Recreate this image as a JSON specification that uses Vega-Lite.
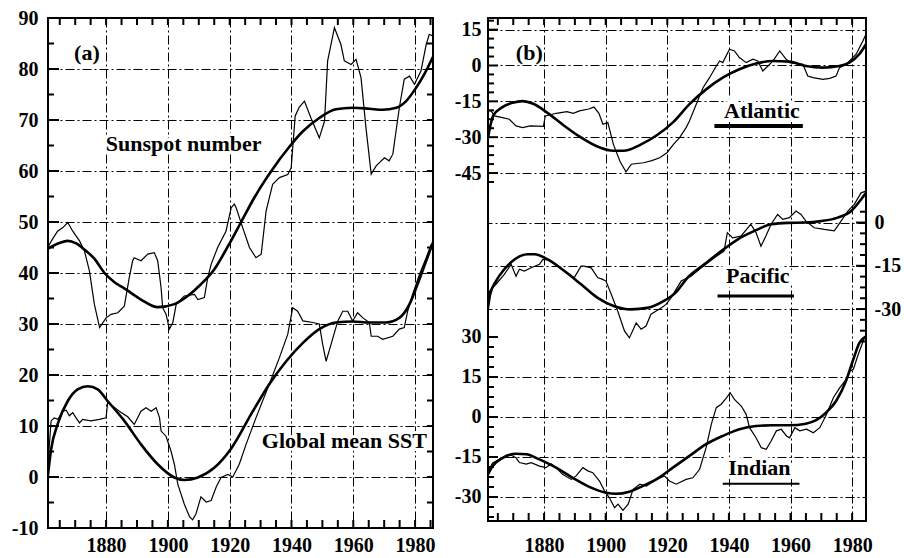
{
  "$schema": "https://vega.github.io/schema/vega-lite/v6.json",
  "background": "white",
  "padding": {"left": 10, "top": 7, "right": 0, "bottom": 0},
  "config": {
    "view": {"stroke": "black", "strokeWidth": 2},
    "axis": {
      "title": null, "domain": false, "ticks": false,
      "labelFont": "Liberation Serif", "labelFontWeight": "bold", "labelFontSize": 20, "labelColor": "black",
      "gridColor": "black", "gridWidth": 1, "gridDash": [9, 3, 2, 3],
      "labelOverlap": false
    },
    "text": {"font": "Liberation Serif", "fontWeight": "bold", "fontSize": 22}
  },
  "datasets": {
    "tickYearsA": [{"year":1865},{"year":1870},{"year":1875},{"year":1880},{"year":1885},{"year":1890},{"year":1895},{"year":1900},{"year":1905},{"year":1910},{"year":1915},{"year":1920},{"year":1925},{"year":1930},{"year":1935},{"year":1940},{"year":1945},{"year":1950},{"year":1955},{"year":1960},{"year":1965},{"year":1970},{"year":1975},{"year":1980},{"year":1985}],
    "tickYearsB": [{"year":1865},{"year":1870},{"year":1875},{"year":1880},{"year":1885},{"year":1890},{"year":1895},{"year":1900},{"year":1905},{"year":1910},{"year":1915},{"year":1920},{"year":1925},{"year":1930},{"year":1935},{"year":1940},{"year":1945},{"year":1950},{"year":1955},{"year":1960},{"year":1965},{"year":1970},{"year":1975},{"year":1980}],
    "tickValues": [
      {"scale":"a","level":"major","value":0},{"scale":"a","level":"major","value":10},{"scale":"a","level":"major","value":20},{"scale":"a","level":"major","value":30},{"scale":"a","level":"major","value":40},{"scale":"a","level":"major","value":50},{"scale":"a","level":"major","value":60},{"scale":"a","level":"major","value":70},{"scale":"a","level":"major","value":80},
      {"scale":"a","level":"minor","value":-5},{"scale":"a","level":"minor","value":5},{"scale":"a","level":"minor","value":15},{"scale":"a","level":"minor","value":25},{"scale":"a","level":"minor","value":35},{"scale":"a","level":"minor","value":45},{"scale":"a","level":"minor","value":55},{"scale":"a","level":"minor","value":65},{"scale":"a","level":"minor","value":75},{"scale":"a","level":"minor","value":85},
      {"scale":"Atlantic","level":"major","value":15},{"scale":"Atlantic","level":"major","value":0},{"scale":"Atlantic","level":"major","value":-15},{"scale":"Atlantic","level":"major","value":-30},{"scale":"Atlantic","level":"major","value":-45},
      {"scale":"Atlantic","level":"minor","value":18.75},{"scale":"Atlantic","level":"minor","value":11.25},{"scale":"Atlantic","level":"minor","value":7.5},{"scale":"Atlantic","level":"minor","value":3.75},{"scale":"Atlantic","level":"minor","value":-3.75},{"scale":"Atlantic","level":"minor","value":-7.5},{"scale":"Atlantic","level":"minor","value":-11.25},{"scale":"Atlantic","level":"minor","value":-18.75},{"scale":"Atlantic","level":"minor","value":-22.5},{"scale":"Atlantic","level":"minor","value":-26.25},{"scale":"Atlantic","level":"minor","value":-33.75},{"scale":"Atlantic","level":"minor","value":-37.5},{"scale":"Atlantic","level":"minor","value":-41.25},{"scale":"Atlantic","level":"minor","value":-48.75},
      {"scale":"Pacific","level":"major","value":0},{"scale":"Pacific","level":"major","value":-15},{"scale":"Pacific","level":"major","value":-30},
      {"scale":"Pacific","level":"minor","value":3.75},{"scale":"Pacific","level":"minor","value":-3.75},{"scale":"Pacific","level":"minor","value":-7.5},{"scale":"Pacific","level":"minor","value":-11.25},{"scale":"Pacific","level":"minor","value":-18.75},{"scale":"Pacific","level":"minor","value":-22.5},{"scale":"Pacific","level":"minor","value":-26.25},{"scale":"Pacific","level":"minor","value":-33.75},{"scale":"Pacific","level":"minor","value":-37.5},{"scale":"Pacific","level":"minor","value":-41.25},
      {"scale":"Indian","level":"major","value":30},{"scale":"Indian","level":"major","value":15},{"scale":"Indian","level":"major","value":0},{"scale":"Indian","level":"major","value":-15},{"scale":"Indian","level":"major","value":-30},
      {"scale":"Indian","level":"minor","value":26.25},{"scale":"Indian","level":"minor","value":22.5},{"scale":"Indian","level":"minor","value":18.75},{"scale":"Indian","level":"minor","value":11.25},{"scale":"Indian","level":"minor","value":7.5},{"scale":"Indian","level":"minor","value":3.75},{"scale":"Indian","level":"minor","value":-3.75},{"scale":"Indian","level":"minor","value":-7.5},{"scale":"Indian","level":"minor","value":-11.25},{"scale":"Indian","level":"minor","value":-18.75},{"scale":"Indian","level":"minor","value":-22.5},{"scale":"Indian","level":"minor","value":-26.25},{"scale":"Indian","level":"minor","value":-33.75},{"scale":"Indian","level":"minor","value":-37.5}
    ],
    "a": [
      {"series":"Sunspot","kind":"raw","year":1861.1,"value":45},
      {"series":"Sunspot","kind":"raw","year":1862.5,"value":46.5},
      {"series":"Sunspot","kind":"raw","year":1864.3,"value":48.2},
      {"series":"Sunspot","kind":"raw","year":1866,"value":48.9},
      {"series":"Sunspot","kind":"raw","year":1867.6,"value":49.9},
      {"series":"Sunspot","kind":"raw","year":1869.2,"value":48.2},
      {"series":"Sunspot","kind":"raw","year":1871.4,"value":46.3},
      {"series":"Sunspot","kind":"raw","year":1873,"value":44.3},
      {"series":"Sunspot","kind":"raw","year":1874.6,"value":40.4},
      {"series":"Sunspot","kind":"raw","year":1876.2,"value":33.9},
      {"series":"Sunspot","kind":"raw","year":1877.9,"value":29.3},
      {"series":"Sunspot","kind":"raw","year":1880,"value":31.2},
      {"series":"Sunspot","kind":"raw","year":1881.6,"value":31.9},
      {"series":"Sunspot","kind":"raw","year":1883.8,"value":32.2},
      {"series":"Sunspot","kind":"raw","year":1885.9,"value":33.5},
      {"series":"Sunspot","kind":"raw","year":1887.5,"value":39.1},
      {"series":"Sunspot","kind":"raw","year":1888.6,"value":42.4},
      {"series":"Sunspot","kind":"raw","year":1889.1,"value":43},
      {"series":"Sunspot","kind":"raw","year":1891.3,"value":42.4},
      {"series":"Sunspot","kind":"raw","year":1893.5,"value":43.7},
      {"series":"Sunspot","kind":"raw","year":1895.6,"value":44},
      {"series":"Sunspot","kind":"raw","year":1896.7,"value":42.4},
      {"series":"Sunspot","kind":"raw","year":1897.8,"value":37.1},
      {"series":"Sunspot","kind":"raw","year":1898.3,"value":33.2},
      {"series":"Sunspot","kind":"raw","year":1899.4,"value":31.9},
      {"series":"Sunspot","kind":"raw","year":1900.5,"value":29},
      {"series":"Sunspot","kind":"raw","year":1901.6,"value":30.3},
      {"series":"Sunspot","kind":"raw","year":1902.7,"value":33.9},
      {"series":"Sunspot","kind":"raw","year":1905.3,"value":35.5},
      {"series":"Sunspot","kind":"raw","year":1908.6,"value":35.8},
      {"series":"Sunspot","kind":"raw","year":1909.7,"value":34.8},
      {"series":"Sunspot","kind":"raw","year":1911.8,"value":35.2},
      {"series":"Sunspot","kind":"raw","year":1912.9,"value":39.1},
      {"series":"Sunspot","kind":"raw","year":1914,"value":41.7},
      {"series":"Sunspot","kind":"raw","year":1916.1,"value":45},
      {"series":"Sunspot","kind":"raw","year":1918.8,"value":48.2},
      {"series":"Sunspot","kind":"raw","year":1920.5,"value":52.8},
      {"series":"Sunspot","kind":"raw","year":1921.5,"value":53.5},
      {"series":"Sunspot","kind":"raw","year":1922.1,"value":52.8},
      {"series":"Sunspot","kind":"raw","year":1924.2,"value":48.9},
      {"series":"Sunspot","kind":"raw","year":1926.4,"value":45},
      {"series":"Sunspot","kind":"raw","year":1928.5,"value":43},
      {"series":"Sunspot","kind":"raw","year":1930.2,"value":43.7},
      {"series":"Sunspot","kind":"raw","year":1931.8,"value":52.2},
      {"series":"Sunspot","kind":"raw","year":1933.9,"value":57.4},
      {"series":"Sunspot","kind":"raw","year":1936.1,"value":58.7},
      {"series":"Sunspot","kind":"raw","year":1938.8,"value":59.3},
      {"series":"Sunspot","kind":"raw","year":1939.9,"value":60.6},
      {"series":"Sunspot","kind":"raw","year":1941.2,"value":70.8},
      {"series":"Sunspot","kind":"raw","year":1942.5,"value":72.5},
      {"series":"Sunspot","kind":"raw","year":1944.2,"value":73.7},
      {"series":"Sunspot","kind":"raw","year":1946.3,"value":70.4},
      {"series":"Sunspot","kind":"raw","year":1949,"value":66.5},
      {"series":"Sunspot","kind":"raw","year":1950.7,"value":69.8},
      {"series":"Sunspot","kind":"raw","year":1951.7,"value":81.6},
      {"series":"Sunspot","kind":"raw","year":1953.9,"value":88.1},
      {"series":"Sunspot","kind":"raw","year":1956,"value":84.8},
      {"series":"Sunspot","kind":"raw","year":1957.1,"value":81.6},
      {"series":"Sunspot","kind":"raw","year":1959.3,"value":80.9},
      {"series":"Sunspot","kind":"raw","year":1960.9,"value":81.9},
      {"series":"Sunspot","kind":"raw","year":1962.5,"value":78.3},
      {"series":"Sunspot","kind":"raw","year":1964.1,"value":68.5},
      {"series":"Sunspot","kind":"raw","year":1965.8,"value":59.4},
      {"series":"Sunspot","kind":"raw","year":1967.4,"value":61},
      {"series":"Sunspot","kind":"raw","year":1970.1,"value":62.6},
      {"series":"Sunspot","kind":"raw","year":1971.6,"value":62},
      {"series":"Sunspot","kind":"raw","year":1972.8,"value":63.3},
      {"series":"Sunspot","kind":"raw","year":1974.9,"value":72.4},
      {"series":"Sunspot","kind":"raw","year":1976.5,"value":78},
      {"series":"Sunspot","kind":"raw","year":1978.2,"value":78.6},
      {"series":"Sunspot","kind":"raw","year":1979.8,"value":77},
      {"series":"Sunspot","kind":"raw","year":1981.9,"value":79.6},
      {"series":"Sunspot","kind":"raw","year":1983.6,"value":84.8},
      {"series":"Sunspot","kind":"raw","year":1984.6,"value":86.8},
      {"series":"Sunspot","kind":"raw","year":1985.7,"value":86.5},
      {"series":"Sunspot","kind":"smooth","year":1861.2,"value":44.8},
      {"series":"Sunspot","kind":"smooth","year":1864.9,"value":45.9},
      {"series":"Sunspot","kind":"smooth","year":1867.6,"value":46.3},
      {"series":"Sunspot","kind":"smooth","year":1870.3,"value":45.8},
      {"series":"Sunspot","kind":"smooth","year":1873,"value":44.6},
      {"series":"Sunspot","kind":"smooth","year":1876.2,"value":42.8},
      {"series":"Sunspot","kind":"smooth","year":1879.5,"value":40},
      {"series":"Sunspot","kind":"smooth","year":1882.5,"value":38.3},
      {"series":"Sunspot","kind":"smooth","year":1885.9,"value":37},
      {"series":"Sunspot","kind":"smooth","year":1891.3,"value":34.8},
      {"series":"Sunspot","kind":"smooth","year":1896.7,"value":33.3},
      {"series":"Sunspot","kind":"smooth","year":1902.1,"value":33.9},
      {"series":"Sunspot","kind":"smooth","year":1906.4,"value":35.5},
      {"series":"Sunspot","kind":"smooth","year":1910.7,"value":37.8},
      {"series":"Sunspot","kind":"smooth","year":1915,"value":40.7},
      {"series":"Sunspot","kind":"smooth","year":1919.5,"value":45.3},
      {"series":"Sunspot","kind":"smooth","year":1923.7,"value":50},
      {"series":"Sunspot","kind":"smooth","year":1928,"value":54.8},
      {"series":"Sunspot","kind":"smooth","year":1932.8,"value":59.4},
      {"series":"Sunspot","kind":"smooth","year":1939.9,"value":65.2},
      {"series":"Sunspot","kind":"smooth","year":1943.7,"value":67.8},
      {"series":"Sunspot","kind":"smooth","year":1949,"value":70.4},
      {"series":"Sunspot","kind":"smooth","year":1954.4,"value":72.1},
      {"series":"Sunspot","kind":"smooth","year":1959.8,"value":72.4},
      {"series":"Sunspot","kind":"smooth","year":1965.2,"value":72.2},
      {"series":"Sunspot","kind":"smooth","year":1969.5,"value":72},
      {"series":"Sunspot","kind":"smooth","year":1973.9,"value":72.4},
      {"series":"Sunspot","kind":"smooth","year":1977.1,"value":73.7},
      {"series":"Sunspot","kind":"smooth","year":1980.3,"value":76.3},
      {"series":"Sunspot","kind":"smooth","year":1983,"value":79},
      {"series":"Sunspot","kind":"smooth","year":1985.8,"value":82.4},
      {"series":"SST","kind":"raw","year":1861.1,"value":-0.1},
      {"series":"SST","kind":"raw","year":1861.5,"value":5.1},
      {"series":"SST","kind":"raw","year":1862.2,"value":11},
      {"series":"SST","kind":"raw","year":1863.2,"value":11.6},
      {"series":"SST","kind":"raw","year":1864.4,"value":11.3},
      {"series":"SST","kind":"raw","year":1866,"value":12.9},
      {"series":"SST","kind":"raw","year":1867.1,"value":13.1},
      {"series":"SST","kind":"raw","year":1868.1,"value":12},
      {"series":"SST","kind":"raw","year":1869.2,"value":12.6},
      {"series":"SST","kind":"raw","year":1870.3,"value":11.6},
      {"series":"SST","kind":"raw","year":1871.4,"value":10.6},
      {"series":"SST","kind":"raw","year":1872.4,"value":11.3},
      {"series":"SST","kind":"raw","year":1875.1,"value":11},
      {"series":"SST","kind":"raw","year":1877.8,"value":11.3},
      {"series":"SST","kind":"raw","year":1880,"value":11.6},
      {"series":"SST","kind":"raw","year":1880.5,"value":14.6},
      {"series":"SST","kind":"raw","year":1882.2,"value":13.9},
      {"series":"SST","kind":"raw","year":1884.5,"value":12.8},
      {"series":"SST","kind":"raw","year":1887,"value":11.8},
      {"series":"SST","kind":"raw","year":1889.1,"value":10.3},
      {"series":"SST","kind":"raw","year":1891.3,"value":12.9},
      {"series":"SST","kind":"raw","year":1892.9,"value":13.6},
      {"series":"SST","kind":"raw","year":1894.6,"value":12.9},
      {"series":"SST","kind":"raw","year":1896.2,"value":13.6},
      {"series":"SST","kind":"raw","year":1897.3,"value":11.6},
      {"series":"SST","kind":"raw","year":1897.8,"value":9},
      {"series":"SST","kind":"raw","year":1899.4,"value":8},
      {"series":"SST","kind":"raw","year":1901,"value":5.1},
      {"series":"SST","kind":"raw","year":1902.1,"value":2.5},
      {"series":"SST","kind":"raw","year":1903.2,"value":-1.4},
      {"series":"SST","kind":"raw","year":1905.3,"value":-5.3},
      {"series":"SST","kind":"raw","year":1907,"value":-7.8},
      {"series":"SST","kind":"raw","year":1908,"value":-8.4},
      {"series":"SST","kind":"raw","year":1909.1,"value":-7.2},
      {"series":"SST","kind":"raw","year":1910.7,"value":-3.9},
      {"series":"SST","kind":"raw","year":1912.4,"value":-4.9},
      {"series":"SST","kind":"raw","year":1914,"value":-4.6},
      {"series":"SST","kind":"raw","year":1915.6,"value":-2},
      {"series":"SST","kind":"raw","year":1917.2,"value":-0.1},
      {"series":"SST","kind":"raw","year":1919.4,"value":0.5},
      {"series":"SST","kind":"raw","year":1921,"value":0},
      {"series":"SST","kind":"raw","year":1923.1,"value":2.5},
      {"series":"SST","kind":"raw","year":1925.3,"value":6.4},
      {"series":"SST","kind":"raw","year":1928.5,"value":11.6},
      {"series":"SST","kind":"raw","year":1932.8,"value":18.2},
      {"series":"SST","kind":"raw","year":1936.1,"value":23.4},
      {"series":"SST","kind":"raw","year":1938.8,"value":28},
      {"series":"SST","kind":"raw","year":1940.4,"value":33.2},
      {"series":"SST","kind":"raw","year":1942,"value":32.5},
      {"series":"SST","kind":"raw","year":1943.7,"value":30.6},
      {"series":"SST","kind":"raw","year":1946.9,"value":30.3},
      {"series":"SST","kind":"raw","year":1949,"value":30},
      {"series":"SST","kind":"raw","year":1950.1,"value":26},
      {"series":"SST","kind":"raw","year":1951.2,"value":22.7},
      {"series":"SST","kind":"raw","year":1952.8,"value":26},
      {"series":"SST","kind":"raw","year":1955,"value":30.6},
      {"series":"SST","kind":"raw","year":1956.6,"value":32.5},
      {"series":"SST","kind":"raw","year":1958.2,"value":32.5},
      {"series":"SST","kind":"raw","year":1959.8,"value":30.6},
      {"series":"SST","kind":"raw","year":1961.4,"value":32.2},
      {"series":"SST","kind":"raw","year":1963.1,"value":31.2},
      {"series":"SST","kind":"raw","year":1965.2,"value":30.3},
      {"series":"SST","kind":"raw","year":1965.8,"value":27.6},
      {"series":"SST","kind":"raw","year":1967.9,"value":27.6},
      {"series":"SST","kind":"raw","year":1969.5,"value":27},
      {"series":"SST","kind":"raw","year":1972.8,"value":27.6},
      {"series":"SST","kind":"raw","year":1974.9,"value":29},
      {"series":"SST","kind":"raw","year":1976.5,"value":29.3},
      {"series":"SST","kind":"raw","year":1977.6,"value":32.5},
      {"series":"SST","kind":"raw","year":1979.2,"value":35.8},
      {"series":"SST","kind":"raw","year":1981.4,"value":39.7},
      {"series":"SST","kind":"raw","year":1983.6,"value":43},
      {"series":"SST","kind":"raw","year":1985.2,"value":45.6},
      {"series":"SST","kind":"smooth","year":1861.1,"value":-0.1},
      {"series":"SST","kind":"smooth","year":1862.2,"value":5.4},
      {"series":"SST","kind":"smooth","year":1864.4,"value":10.5},
      {"series":"SST","kind":"smooth","year":1867.6,"value":14.9},
      {"series":"SST","kind":"smooth","year":1870.8,"value":17.2},
      {"series":"SST","kind":"smooth","year":1874.1,"value":17.8},
      {"series":"SST","kind":"smooth","year":1877.3,"value":17.2},
      {"series":"SST","kind":"smooth","year":1880.5,"value":14.9},
      {"series":"SST","kind":"smooth","year":1885.9,"value":11},
      {"series":"SST","kind":"smooth","year":1891.3,"value":6.4},
      {"series":"SST","kind":"smooth","year":1896.7,"value":2.5},
      {"series":"SST","kind":"smooth","year":1902.1,"value":-0.1},
      {"series":"SST","kind":"smooth","year":1905.3,"value":-0.6},
      {"series":"SST","kind":"smooth","year":1909.7,"value":-0.1},
      {"series":"SST","kind":"smooth","year":1915,"value":1.8},
      {"series":"SST","kind":"smooth","year":1920.5,"value":5.6},
      {"series":"SST","kind":"smooth","year":1927.5,"value":12.9},
      {"series":"SST","kind":"smooth","year":1932.8,"value":18.2},
      {"series":"SST","kind":"smooth","year":1938.3,"value":22.7},
      {"series":"SST","kind":"smooth","year":1943.7,"value":26.3},
      {"series":"SST","kind":"smooth","year":1949,"value":29},
      {"series":"SST","kind":"smooth","year":1954.4,"value":30.3},
      {"series":"SST","kind":"smooth","year":1959.8,"value":30.5},
      {"series":"SST","kind":"smooth","year":1965.2,"value":30.3},
      {"series":"SST","kind":"smooth","year":1970.6,"value":30.3},
      {"series":"SST","kind":"smooth","year":1974.9,"value":31.2},
      {"series":"SST","kind":"smooth","year":1978.2,"value":33.9},
      {"series":"SST","kind":"smooth","year":1980.8,"value":37.8},
      {"series":"SST","kind":"smooth","year":1983.6,"value":42.4},
      {"series":"SST","kind":"smooth","year":1985.8,"value":46}
    ],
    "b": [
      {"series":"Atlantic","kind":"raw","year":1861.8,"value":-19},
      {"series":"Atlantic","kind":"raw","year":1862.8,"value":-19},
      {"series":"Atlantic","kind":"raw","year":1863.9,"value":-21.1},
      {"series":"Atlantic","kind":"raw","year":1866.5,"value":-21.8},
      {"series":"Atlantic","kind":"raw","year":1868.7,"value":-22.5},
      {"series":"Atlantic","kind":"raw","year":1870.9,"value":-25.3},
      {"series":"Atlantic","kind":"raw","year":1873,"value":-26},
      {"series":"Atlantic","kind":"raw","year":1875.5,"value":-25.3},
      {"series":"Atlantic","kind":"raw","year":1879.8,"value":-25.5},
      {"series":"Atlantic","kind":"raw","year":1880.4,"value":-21.1},
      {"series":"Atlantic","kind":"raw","year":1884,"value":-20},
      {"series":"Atlantic","kind":"raw","year":1887.4,"value":-19.3},
      {"series":"Atlantic","kind":"raw","year":1889.5,"value":-20},
      {"series":"Atlantic","kind":"raw","year":1891.5,"value":-19},
      {"series":"Atlantic","kind":"raw","year":1894.5,"value":-18.2},
      {"series":"Atlantic","kind":"raw","year":1896.2,"value":-17.4},
      {"series":"Atlantic","kind":"raw","year":1897.8,"value":-20},
      {"series":"Atlantic","kind":"raw","year":1899.1,"value":-24.6},
      {"series":"Atlantic","kind":"raw","year":1900.7,"value":-23.9},
      {"series":"Atlantic","kind":"raw","year":1902.5,"value":-33},
      {"series":"Atlantic","kind":"raw","year":1904.7,"value":-40.3},
      {"series":"Atlantic","kind":"raw","year":1906.6,"value":-44.5},
      {"series":"Atlantic","kind":"raw","year":1908.3,"value":-41.3},
      {"series":"Atlantic","kind":"raw","year":1910.2,"value":-41},
      {"series":"Atlantic","kind":"raw","year":1912.3,"value":-40.7},
      {"series":"Atlantic","kind":"raw","year":1915,"value":-39.8},
      {"series":"Atlantic","kind":"raw","year":1917.5,"value":-38.6},
      {"series":"Atlantic","kind":"raw","year":1919.9,"value":-36.5},
      {"series":"Atlantic","kind":"raw","year":1922,"value":-33},
      {"series":"Atlantic","kind":"raw","year":1924,"value":-30.2},
      {"series":"Atlantic","kind":"raw","year":1926.1,"value":-26},
      {"series":"Atlantic","kind":"raw","year":1927.2,"value":-23.2},
      {"series":"Atlantic","kind":"raw","year":1929.4,"value":-16.2},
      {"series":"Atlantic","kind":"raw","year":1931.6,"value":-9.3},
      {"series":"Atlantic","kind":"raw","year":1933.7,"value":-5.1},
      {"series":"Atlantic","kind":"raw","year":1935.9,"value":-0.2},
      {"series":"Atlantic","kind":"raw","year":1937,"value":1.9},
      {"series":"Atlantic","kind":"raw","year":1938,"value":1.2},
      {"series":"Atlantic","kind":"raw","year":1940.2,"value":6.8},
      {"series":"Atlantic","kind":"raw","year":1941.8,"value":6.1},
      {"series":"Atlantic","kind":"raw","year":1943.4,"value":3.3},
      {"series":"Atlantic","kind":"raw","year":1945.6,"value":1.2},
      {"series":"Atlantic","kind":"raw","year":1947.8,"value":2.6},
      {"series":"Atlantic","kind":"raw","year":1949.4,"value":1.9},
      {"series":"Atlantic","kind":"raw","year":1951,"value":-2.3},
      {"series":"Atlantic","kind":"raw","year":1952.7,"value":-0.2},
      {"series":"Atlantic","kind":"raw","year":1954.3,"value":1.9},
      {"series":"Atlantic","kind":"raw","year":1956.5,"value":6.1},
      {"series":"Atlantic","kind":"raw","year":1958.6,"value":2.6},
      {"series":"Atlantic","kind":"raw","year":1959.7,"value":1.2},
      {"series":"Atlantic","kind":"raw","year":1964,"value":0.5},
      {"series":"Atlantic","kind":"raw","year":1965.6,"value":-4.4},
      {"series":"Atlantic","kind":"raw","year":1967.3,"value":-5.1},
      {"series":"Atlantic","kind":"raw","year":1970.5,"value":-5.8},
      {"series":"Atlantic","kind":"raw","year":1972.7,"value":-5.4},
      {"series":"Atlantic","kind":"raw","year":1974.8,"value":-4.4},
      {"series":"Atlantic","kind":"raw","year":1975.9,"value":-0.9},
      {"series":"Atlantic","kind":"raw","year":1978.1,"value":0.5},
      {"series":"Atlantic","kind":"raw","year":1981.3,"value":4.7},
      {"series":"Atlantic","kind":"raw","year":1983.5,"value":10.3},
      {"series":"Atlantic","kind":"raw","year":1984.5,"value":13.1},
      {"series":"Atlantic","kind":"smooth","year":1861.8,"value":-30.2},
      {"series":"Atlantic","kind":"smooth","year":1863.5,"value":-21},
      {"series":"Atlantic","kind":"smooth","year":1866.5,"value":-17.4},
      {"series":"Atlantic","kind":"smooth","year":1869.8,"value":-15.6},
      {"series":"Atlantic","kind":"smooth","year":1873,"value":-14.9},
      {"series":"Atlantic","kind":"smooth","year":1876.5,"value":-16},
      {"series":"Atlantic","kind":"smooth","year":1881,"value":-19.7},
      {"series":"Atlantic","kind":"smooth","year":1886.3,"value":-25},
      {"series":"Atlantic","kind":"smooth","year":1891.7,"value":-29.9},
      {"series":"Atlantic","kind":"smooth","year":1897.1,"value":-33.8},
      {"series":"Atlantic","kind":"smooth","year":1902.5,"value":-35.7},
      {"series":"Atlantic","kind":"smooth","year":1905.8,"value":-35.7},
      {"series":"Atlantic","kind":"smooth","year":1911.2,"value":-33.2},
      {"series":"Atlantic","kind":"smooth","year":1916.6,"value":-29.2},
      {"series":"Atlantic","kind":"smooth","year":1922,"value":-23.6},
      {"series":"Atlantic","kind":"smooth","year":1927.2,"value":-16.2},
      {"series":"Atlantic","kind":"smooth","year":1932.6,"value":-10},
      {"series":"Atlantic","kind":"smooth","year":1938,"value":-5.1},
      {"series":"Atlantic","kind":"smooth","year":1943.4,"value":-1.6},
      {"series":"Atlantic","kind":"smooth","year":1948.8,"value":0.8},
      {"series":"Atlantic","kind":"smooth","year":1954.2,"value":1.9},
      {"series":"Atlantic","kind":"smooth","year":1959.6,"value":1.6},
      {"series":"Atlantic","kind":"smooth","year":1965,"value":-0.2},
      {"series":"Atlantic","kind":"smooth","year":1970.4,"value":-0.9},
      {"series":"Atlantic","kind":"smooth","year":1975.8,"value":-0.2},
      {"series":"Atlantic","kind":"smooth","year":1979.1,"value":1.2},
      {"series":"Atlantic","kind":"smooth","year":1982.3,"value":4.7},
      {"series":"Atlantic","kind":"smooth","year":1984.5,"value":8.9},
      {"series":"Pacific","kind":"raw","year":1861.8,"value":-30.7},
      {"series":"Pacific","kind":"raw","year":1862.3,"value":-23.8},
      {"series":"Pacific","kind":"raw","year":1864.4,"value":-21.4},
      {"series":"Pacific","kind":"raw","year":1867.1,"value":-18},
      {"series":"Pacific","kind":"raw","year":1869.3,"value":-14.5},
      {"series":"Pacific","kind":"raw","year":1870.9,"value":-18.6},
      {"series":"Pacific","kind":"raw","year":1872,"value":-16.2},
      {"series":"Pacific","kind":"raw","year":1873.6,"value":-16.8},
      {"series":"Pacific","kind":"raw","year":1875.8,"value":-15.7},
      {"series":"Pacific","kind":"raw","year":1878.5,"value":-14.5},
      {"series":"Pacific","kind":"raw","year":1879.6,"value":-12.8},
      {"series":"Pacific","kind":"raw","year":1881.2,"value":-12.9},
      {"series":"Pacific","kind":"raw","year":1884,"value":-14.8},
      {"series":"Pacific","kind":"raw","year":1887,"value":-17},
      {"series":"Pacific","kind":"raw","year":1889.8,"value":-19.1},
      {"series":"Pacific","kind":"raw","year":1892,"value":-15.1},
      {"series":"Pacific","kind":"raw","year":1893,"value":-15.1},
      {"series":"Pacific","kind":"raw","year":1895.3,"value":-15.7},
      {"series":"Pacific","kind":"raw","year":1897.4,"value":-19.1},
      {"series":"Pacific","kind":"raw","year":1899,"value":-19.7},
      {"series":"Pacific","kind":"raw","year":1900.1,"value":-20.3},
      {"series":"Pacific","kind":"raw","year":1901.8,"value":-24.9},
      {"series":"Pacific","kind":"raw","year":1903.9,"value":-30.7},
      {"series":"Pacific","kind":"raw","year":1906.1,"value":-37.6},
      {"series":"Pacific","kind":"raw","year":1907.7,"value":-40},
      {"series":"Pacific","kind":"raw","year":1909.9,"value":-34.8},
      {"series":"Pacific","kind":"raw","year":1911.5,"value":-37},
      {"series":"Pacific","kind":"raw","year":1913.1,"value":-35.9},
      {"series":"Pacific","kind":"raw","year":1914.7,"value":-31.8},
      {"series":"Pacific","kind":"raw","year":1916.4,"value":-30.7},
      {"series":"Pacific","kind":"raw","year":1918,"value":-29.6},
      {"series":"Pacific","kind":"raw","year":1919.6,"value":-28.4},
      {"series":"Pacific","kind":"raw","year":1921.2,"value":-26.1},
      {"series":"Pacific","kind":"raw","year":1924.5,"value":-20.3},
      {"series":"Pacific","kind":"raw","year":1927.7,"value":-18.6},
      {"series":"Pacific","kind":"raw","year":1931,"value":-15.7},
      {"series":"Pacific","kind":"raw","year":1935.3,"value":-12.2},
      {"series":"Pacific","kind":"raw","year":1938.4,"value":-9.9},
      {"series":"Pacific","kind":"raw","year":1939.5,"value":-3.5},
      {"series":"Pacific","kind":"raw","year":1941.2,"value":-5.3},
      {"series":"Pacific","kind":"raw","year":1943.9,"value":-4.7},
      {"series":"Pacific","kind":"raw","year":1947.1,"value":-0.6},
      {"series":"Pacific","kind":"raw","year":1948.8,"value":-3.5},
      {"series":"Pacific","kind":"raw","year":1950.4,"value":-8.2},
      {"series":"Pacific","kind":"raw","year":1952,"value":-4.7},
      {"series":"Pacific","kind":"raw","year":1953.7,"value":-0.6},
      {"series":"Pacific","kind":"raw","year":1955.8,"value":2.8},
      {"series":"Pacific","kind":"raw","year":1957.5,"value":1.1},
      {"series":"Pacific","kind":"raw","year":1959.6,"value":1.7},
      {"series":"Pacific","kind":"raw","year":1961.8,"value":4},
      {"series":"Pacific","kind":"raw","year":1963.4,"value":2.8},
      {"series":"Pacific","kind":"raw","year":1965,"value":0.5},
      {"series":"Pacific","kind":"raw","year":1967.7,"value":-1.8},
      {"series":"Pacific","kind":"raw","year":1971,"value":-2.4},
      {"series":"Pacific","kind":"raw","year":1974.2,"value":-2.9},
      {"series":"Pacific","kind":"raw","year":1976.4,"value":0.5},
      {"series":"Pacific","kind":"raw","year":1978.6,"value":4},
      {"series":"Pacific","kind":"raw","year":1980.7,"value":6.3},
      {"series":"Pacific","kind":"raw","year":1982.9,"value":10.3},
      {"series":"Pacific","kind":"raw","year":1984.5,"value":10.9},
      {"series":"Pacific","kind":"smooth","year":1861.8,"value":-29.5},
      {"series":"Pacific","kind":"smooth","year":1862.5,"value":-24.9},
      {"series":"Pacific","kind":"smooth","year":1864.4,"value":-20.3},
      {"series":"Pacific","kind":"smooth","year":1867.1,"value":-16.2},
      {"series":"Pacific","kind":"smooth","year":1870.4,"value":-12.8},
      {"series":"Pacific","kind":"smooth","year":1874.7,"value":-11},
      {"series":"Pacific","kind":"smooth","year":1876.9,"value":-11},
      {"series":"Pacific","kind":"smooth","year":1881.2,"value":-12.8},
      {"series":"Pacific","kind":"smooth","year":1886.6,"value":-16.8},
      {"series":"Pacific","kind":"smooth","year":1892,"value":-21.4},
      {"series":"Pacific","kind":"smooth","year":1897.4,"value":-26.1},
      {"series":"Pacific","kind":"smooth","year":1902.8,"value":-29},
      {"series":"Pacific","kind":"smooth","year":1908.2,"value":-30.1},
      {"series":"Pacific","kind":"smooth","year":1913.5,"value":-29.6},
      {"series":"Pacific","kind":"smooth","year":1918.9,"value":-27.2},
      {"series":"Pacific","kind":"smooth","year":1922.7,"value":-24.3},
      {"series":"Pacific","kind":"smooth","year":1926.6,"value":-19.1},
      {"series":"Pacific","kind":"smooth","year":1932,"value":-14.5},
      {"series":"Pacific","kind":"smooth","year":1937.5,"value":-9.9},
      {"series":"Pacific","kind":"smooth","year":1942.9,"value":-5.8},
      {"series":"Pacific","kind":"smooth","year":1948.3,"value":-2.9},
      {"series":"Pacific","kind":"smooth","year":1953.7,"value":-0.6},
      {"series":"Pacific","kind":"smooth","year":1959.1,"value":-0.1},
      {"series":"Pacific","kind":"smooth","year":1964.5,"value":0},
      {"series":"Pacific","kind":"smooth","year":1969.9,"value":0.5},
      {"series":"Pacific","kind":"smooth","year":1975.3,"value":1.7},
      {"series":"Pacific","kind":"smooth","year":1979.7,"value":4},
      {"series":"Pacific","kind":"smooth","year":1982.9,"value":8},
      {"series":"Pacific","kind":"smooth","year":1984.5,"value":10.3},
      {"series":"Indian","kind":"raw","year":1861.8,"value":-20.2},
      {"series":"Indian","kind":"raw","year":1863.3,"value":-17.2},
      {"series":"Indian","kind":"raw","year":1866.6,"value":-15.3},
      {"series":"Indian","kind":"raw","year":1868.7,"value":-14},
      {"series":"Indian","kind":"raw","year":1870.9,"value":-15.3},
      {"series":"Indian","kind":"raw","year":1872,"value":-17.1},
      {"series":"Indian","kind":"raw","year":1874.2,"value":-17.7},
      {"series":"Indian","kind":"raw","year":1875.8,"value":-17.1},
      {"series":"Indian","kind":"raw","year":1878.5,"value":-18.4},
      {"series":"Indian","kind":"raw","year":1880.6,"value":-19},
      {"series":"Indian","kind":"raw","year":1882.3,"value":-17.5},
      {"series":"Indian","kind":"raw","year":1883.9,"value":-19},
      {"series":"Indian","kind":"raw","year":1886,"value":-21.5},
      {"series":"Indian","kind":"raw","year":1888.8,"value":-23.4},
      {"series":"Indian","kind":"raw","year":1890.4,"value":-22.1},
      {"series":"Indian","kind":"raw","year":1892.6,"value":-19},
      {"series":"Indian","kind":"raw","year":1894.2,"value":-20.2},
      {"series":"Indian","kind":"raw","year":1895.8,"value":-20.9},
      {"series":"Indian","kind":"raw","year":1898,"value":-24},
      {"series":"Indian","kind":"raw","year":1899.6,"value":-27.7},
      {"series":"Indian","kind":"raw","year":1901.2,"value":-30.3},
      {"series":"Indian","kind":"raw","year":1902.9,"value":-34},
      {"series":"Indian","kind":"raw","year":1904,"value":-32.7},
      {"series":"Indian","kind":"raw","year":1905.6,"value":-35},
      {"series":"Indian","kind":"raw","year":1907.3,"value":-32.7},
      {"series":"Indian","kind":"raw","year":1908.9,"value":-27.1},
      {"series":"Indian","kind":"raw","year":1911.1,"value":-25.2},
      {"series":"Indian","kind":"raw","year":1913.2,"value":-25.9},
      {"series":"Indian","kind":"raw","year":1916.4,"value":-23.4},
      {"series":"Indian","kind":"raw","year":1919.1,"value":-22.1},
      {"series":"Indian","kind":"raw","year":1920.7,"value":-24},
      {"series":"Indian","kind":"raw","year":1922.9,"value":-25.2},
      {"series":"Indian","kind":"raw","year":1926.1,"value":-23.4},
      {"series":"Indian","kind":"raw","year":1928.3,"value":-22.8},
      {"series":"Indian","kind":"raw","year":1930.5,"value":-19.6},
      {"series":"Indian","kind":"raw","year":1932.6,"value":-11.5},
      {"series":"Indian","kind":"raw","year":1934.3,"value":-2.7},
      {"series":"Indian","kind":"raw","year":1935.9,"value":3.5},
      {"series":"Indian","kind":"raw","year":1937.5,"value":4.8},
      {"series":"Indian","kind":"raw","year":1939.2,"value":7.2},
      {"series":"Indian","kind":"raw","year":1940.4,"value":9.1},
      {"series":"Indian","kind":"raw","year":1941.8,"value":6.6},
      {"series":"Indian","kind":"raw","year":1944,"value":4.1},
      {"series":"Indian","kind":"raw","year":1945.6,"value":1},
      {"series":"Indian","kind":"raw","year":1946.7,"value":-4},
      {"series":"Indian","kind":"raw","year":1948.8,"value":-7.8},
      {"series":"Indian","kind":"raw","year":1950.5,"value":-11.5},
      {"series":"Indian","kind":"raw","year":1952.1,"value":-12.1},
      {"series":"Indian","kind":"raw","year":1953.7,"value":-9},
      {"series":"Indian","kind":"raw","year":1955.4,"value":-5.2},
      {"series":"Indian","kind":"raw","year":1957,"value":-4.6},
      {"series":"Indian","kind":"raw","year":1958.7,"value":-7.1},
      {"series":"Indian","kind":"raw","year":1959.7,"value":-7.8},
      {"series":"Indian","kind":"raw","year":1961.4,"value":-4},
      {"series":"Indian","kind":"raw","year":1963,"value":-5.2},
      {"series":"Indian","kind":"raw","year":1965.2,"value":-4.6},
      {"series":"Indian","kind":"raw","year":1967.4,"value":-5.9},
      {"series":"Indian","kind":"raw","year":1969.5,"value":-4},
      {"series":"Indian","kind":"raw","year":1971.7,"value":1},
      {"series":"Indian","kind":"raw","year":1973.9,"value":7.2},
      {"series":"Indian","kind":"raw","year":1976,"value":11},
      {"series":"Indian","kind":"raw","year":1977.7,"value":13.5},
      {"series":"Indian","kind":"raw","year":1979.3,"value":17.2},
      {"series":"Indian","kind":"raw","year":1980.4,"value":17.9},
      {"series":"Indian","kind":"raw","year":1982,"value":23.5},
      {"series":"Indian","kind":"raw","year":1984,"value":29.7},
      {"series":"Indian","kind":"smooth","year":1861.8,"value":-21.5},
      {"series":"Indian","kind":"smooth","year":1863.3,"value":-18.4},
      {"series":"Indian","kind":"smooth","year":1866.6,"value":-15.3},
      {"series":"Indian","kind":"smooth","year":1870.9,"value":-13.8},
      {"series":"Indian","kind":"smooth","year":1874.2,"value":-14},
      {"series":"Indian","kind":"smooth","year":1878.5,"value":-15.9},
      {"series":"Indian","kind":"smooth","year":1883.9,"value":-19},
      {"series":"Indian","kind":"smooth","year":1889.3,"value":-22.8},
      {"series":"Indian","kind":"smooth","year":1894.7,"value":-26.2},
      {"series":"Indian","kind":"smooth","year":1900.1,"value":-28.4},
      {"series":"Indian","kind":"smooth","year":1903.4,"value":-28.8},
      {"series":"Indian","kind":"smooth","year":1907.7,"value":-28},
      {"series":"Indian","kind":"smooth","year":1912,"value":-25.9},
      {"series":"Indian","kind":"smooth","year":1916.4,"value":-23.4},
      {"series":"Indian","kind":"smooth","year":1921.8,"value":-19},
      {"series":"Indian","kind":"smooth","year":1927.2,"value":-14.6},
      {"series":"Indian","kind":"smooth","year":1932.6,"value":-10.2},
      {"series":"Indian","kind":"smooth","year":1938,"value":-7.1},
      {"series":"Indian","kind":"smooth","year":1943.4,"value":-4.6},
      {"series":"Indian","kind":"smooth","year":1948.8,"value":-3.4},
      {"series":"Indian","kind":"smooth","year":1954.2,"value":-3.1},
      {"series":"Indian","kind":"smooth","year":1959.6,"value":-3.1},
      {"series":"Indian","kind":"smooth","year":1965,"value":-2.5},
      {"series":"Indian","kind":"smooth","year":1968.3,"value":-1.2},
      {"series":"Indian","kind":"smooth","year":1971.5,"value":1.6},
      {"series":"Indian","kind":"smooth","year":1974.8,"value":6},
      {"series":"Indian","kind":"smooth","year":1978,"value":13.5},
      {"series":"Indian","kind":"smooth","year":1980.2,"value":21},
      {"series":"Indian","kind":"smooth","year":1982.4,"value":27.9},
      {"series":"Indian","kind":"smooth","year":1984.5,"value":30.2}
    ]
  },
  "bounds": "flush",
  "spacing": 55,
  "hconcat": [
    {
      "width": 385,
      "height": 510,
      "layer": [
        {
          "data": {"values": [{}]},
          "mark": {"type": "text", "text": "Sunspot number", "color": "white", "stroke": "white", "strokeWidth": 6, "baseline": "alphabetic", "align": "center"},
          "encoding": {"x": {"datum": 1905.1, "type": "quantitative", "axis": null}, "y": {"datum": 63.9, "type": "quantitative", "axis": null}}
        },
        {
          "data": {"values": [{}]},
          "mark": {"type": "text", "text": "Global mean SST", "color": "white", "stroke": "white", "strokeWidth": 6, "baseline": "alphabetic", "align": "center"},
          "encoding": {"x": {"datum": 1957.1, "type": "quantitative", "axis": null}, "y": {"datum": 5.75, "type": "quantitative", "axis": null}}
        },
        {
          "data": {"name": "a"},
          "transform": [{"filter": "datum.kind === 'raw'"}],
          "mark": {"type": "line", "color": "black", "strokeWidth": 1.2, "clip": true},
          "encoding": {
            "x": {"field": "year", "type": "quantitative", "scale": {"domain": [1861.2, 1985.8], "nice": false, "zero": false},
              "axis": {"orient": "bottom", "values": [1880,1900,1920,1940,1960,1980], "labelExpr": "'' + datum.value", "grid": true, "labelPadding": 7}},
            "y": {"field": "value", "type": "quantitative", "scale": {"domain": [-10, 90], "nice": false, "zero": false},
              "axis": {"orient": "left", "values": [-10,0,10,20,30,40,50,60,70,80,90], "labelExpr": "'' + datum.value", "grid": true, "labelPadding": 10}},
            "detail": {"field": "series"}
          }
        },
        {
          "data": {"name": "a"},
          "transform": [{"filter": "datum.kind === 'smooth'"}],
          "mark": {"type": "line", "color": "black", "strokeWidth": 2.6, "interpolate": "monotone", "clip": true},
          "encoding": {
            "x": {"field": "year", "type": "quantitative", "axis": null},
            "y": {"field": "value", "type": "quantitative", "axis": null},
            "detail": {"field": "series"}
          }
        },
        {
          "data": {"name": "tickYearsA"},
          "mark": {"type": "tick", "orient": "vertical", "color": "black", "opacity": 1, "size": 8, "thickness": 2, "yOffset": -4},
          "encoding": {"x": {"field": "year", "type": "quantitative", "axis": null}, "y": {"datum": -10, "type": "quantitative", "axis": null}}
        },
        {
          "data": {"name": "tickYearsA"},
          "mark": {"type": "tick", "orient": "vertical", "color": "black", "opacity": 1, "size": 7, "thickness": 2, "yOffset": 3.5},
          "encoding": {"x": {"field": "year", "type": "quantitative", "axis": null}, "y": {"datum": 90, "type": "quantitative", "axis": null}}
        },
        {
          "data": {"name": "tickValues"},
          "transform": [{"filter": "datum.scale === 'a' && datum.level === 'major'"}],
          "mark": {"type": "tick", "orient": "horizontal", "color": "black", "opacity": 1, "size": 11, "thickness": 2, "xOffset": 5.5},
          "encoding": {"x": {"datum": 1861.2, "type": "quantitative", "axis": null}, "y": {"field": "value", "type": "quantitative", "axis": null}}
        },
        {
          "data": {"name": "tickValues"},
          "transform": [{"filter": "datum.scale === 'a' && datum.level === 'minor'"}],
          "mark": {"type": "tick", "orient": "horizontal", "color": "black", "opacity": 1, "size": 6, "thickness": 2, "xOffset": 3},
          "encoding": {"x": {"datum": 1861.2, "type": "quantitative", "axis": null}, "y": {"field": "value", "type": "quantitative", "axis": null}}
        },
        {
          "data": {"name": "tickValues"},
          "transform": [{"filter": "datum.scale === 'a'"}],
          "mark": {"type": "tick", "orient": "horizontal", "color": "black", "opacity": 1, "size": 6, "thickness": 2, "xOffset": -3},
          "encoding": {"x": {"datum": 1985.8, "type": "quantitative", "axis": null}, "y": {"field": "value", "type": "quantitative", "axis": null}}
        },
        {
          "data": {"values": [{}]},
          "mark": {"type": "text", "text": "(a)", "color": "black", "baseline": "alphabetic", "align": "center"},
          "encoding": {"x": {"datum": 1873.8, "type": "quantitative", "axis": null}, "y": {"datum": 81.8, "type": "quantitative", "axis": null}}
        },
        {
          "data": {"values": [{}]},
          "mark": {"type": "text", "text": "Sunspot number", "color": "black", "baseline": "alphabetic", "align": "center"},
          "encoding": {"x": {"datum": 1905.1, "type": "quantitative", "axis": null}, "y": {"datum": 63.9, "type": "quantitative", "axis": null}}
        },
        {
          "data": {"values": [{}]},
          "mark": {"type": "text", "text": "Global mean SST", "color": "black", "baseline": "alphabetic", "align": "center"},
          "encoding": {"x": {"datum": 1957.1, "type": "quantitative", "axis": null}, "y": {"datum": 5.75, "type": "quantitative", "axis": null}}
        }
      ],
      "resolve": {"axis": {"x": "independent", "y": "independent"}}
    },
    {
      "width": 378,
      "height": 503,
      "layer": [
        {
          "data": {"values": [{}]},
          "mark": {"type": "text", "text": "Atlantic", "color": "white", "stroke": "white", "strokeWidth": 8, "baseline": "alphabetic", "align": "center"},
          "encoding": {"x": {"datum": 1950.7, "type": "quantitative", "scale": {"domain": [1861.8, 1984.5], "nice": false, "zero": false}, "axis": null},
                       "y": {"datum": -21.8, "type": "quantitative", "scale": {"domain": [-190.6, 19.87], "nice": false, "zero": false}, "axis": null}}
        },
        {
          "data": {"values": [{}]},
          "mark": {"type": "text", "text": "Pacific", "color": "white", "stroke": "white", "strokeWidth": 8, "baseline": "alphabetic", "align": "center"},
          "encoding": {"x": {"datum": 1949.4, "type": "quantitative", "axis": null},
                       "y": {"datum": -20.9, "type": "quantitative", "scale": {"domain": [-103.5, 70.93], "nice": false, "zero": false}, "axis": null}}
        },
        {
          "data": {"values": [{}]},
          "mark": {"type": "text", "text": "Indian", "color": "white", "stroke": "white", "strokeWidth": 8, "baseline": "alphabetic", "align": "center"},
          "encoding": {"x": {"datum": 1949.9, "type": "quantitative", "axis": null},
                       "y": {"datum": -21.9, "type": "quantitative", "scale": {"domain": [-39, 149.6], "nice": false, "zero": false}, "axis": null}}
        },
        {
          "data": {"name": "b"},
          "transform": [{"filter": "datum.series === 'Atlantic' && datum.kind === 'raw'"}],
          "mark": {"type": "line", "color": "black", "strokeWidth": 1.2, "clip": true},
          "encoding": {
            "x": {"field": "year", "type": "quantitative", "scale": {"domain": [1861.8, 1984.5], "nice": false, "zero": false},
              "axis": {"orient": "bottom", "values": [1880,1900,1920,1940,1960,1980], "labelExpr": "'' + datum.value", "grid": true, "labelPadding": 14}},
            "y": {"field": "value", "type": "quantitative", "scale": {"domain": [-190.6, 19.87], "nice": false, "zero": false},
              "axis": {"orient": "left", "values": [15,0,-15,-30,-45], "labelExpr": "'' + datum.value", "grid": true, "labelPadding": 7}}
          }
        },
        {
          "data": {"name": "b"},
          "transform": [{"filter": "datum.series === 'Atlantic' && datum.kind === 'smooth'"}],
          "mark": {"type": "line", "color": "black", "strokeWidth": 2.6, "interpolate": "monotone", "clip": true},
          "encoding": {"x": {"field": "year", "type": "quantitative", "axis": null},
                       "y": {"field": "value", "type": "quantitative", "scale": {"domain": [-190.6, 19.87], "nice": false, "zero": false}, "axis": null}}
        },
        {
          "data": {"name": "b"},
          "transform": [{"filter": "datum.series === 'Pacific' && datum.kind === 'raw'"}],
          "mark": {"type": "line", "color": "black", "strokeWidth": 1.2, "clip": true},
          "encoding": {
            "x": {"field": "year", "type": "quantitative", "axis": null},
            "y": {"field": "value", "type": "quantitative", "scale": {"domain": [-103.5, 70.93], "nice": false, "zero": false},
              "axis": {"orient": "right", "values": [0,-15,-30], "labelExpr": "'' + datum.value", "grid": true, "labelPadding": 8}}
          }
        },
        {
          "data": {"name": "b"},
          "transform": [{"filter": "datum.series === 'Pacific' && datum.kind === 'smooth'"}],
          "mark": {"type": "line", "color": "black", "strokeWidth": 2.6, "interpolate": "monotone", "clip": true},
          "encoding": {"x": {"field": "year", "type": "quantitative", "axis": null},
                       "y": {"field": "value", "type": "quantitative", "scale": {"domain": [-103.5, 70.93], "nice": false, "zero": false}, "axis": null}}
        },
        {
          "data": {"name": "b"},
          "transform": [{"filter": "datum.series === 'Indian' && datum.kind === 'raw'"}],
          "mark": {"type": "line", "color": "black", "strokeWidth": 1.2, "clip": true},
          "encoding": {
            "x": {"field": "year", "type": "quantitative", "axis": null},
            "y": {"field": "value", "type": "quantitative", "scale": {"domain": [-39, 149.6], "nice": false, "zero": false},
              "axis": {"orient": "left", "values": [30,15,0,-15,-30], "labelExpr": "'' + datum.value", "grid": true,
                "gridOpacity": {"condition": {"test": "datum.value < 30", "value": 1}, "value": 0}, "labelPadding": 7}}
          }
        },
        {
          "data": {"name": "b"},
          "transform": [{"filter": "datum.series === 'Indian' && datum.kind === 'smooth'"}],
          "mark": {"type": "line", "color": "black", "strokeWidth": 2.6, "interpolate": "monotone", "clip": true},
          "encoding": {"x": {"field": "year", "type": "quantitative", "axis": null},
                       "y": {"field": "value", "type": "quantitative", "scale": {"domain": [-39, 149.6], "nice": false, "zero": false}, "axis": null}}
        },
        {
          "data": {"name": "tickYearsB"},
          "mark": {"type": "tick", "orient": "vertical", "color": "black", "opacity": 1, "size": 8, "thickness": 2, "yOffset": -4},
          "encoding": {"x": {"field": "year", "type": "quantitative", "axis": null},
                       "y": {"datum": -190.6, "type": "quantitative", "scale": {"domain": [-190.6, 19.87], "nice": false, "zero": false}, "axis": null}}
        },
        {
          "data": {"name": "tickYearsB"},
          "mark": {"type": "tick", "orient": "vertical", "color": "black", "opacity": 1, "size": 7, "thickness": 2, "yOffset": 3.5},
          "encoding": {"x": {"field": "year", "type": "quantitative", "axis": null},
                       "y": {"datum": 19.87, "type": "quantitative", "scale": {"domain": [-190.6, 19.87], "nice": false, "zero": false}, "axis": null}}
        },
        {
          "data": {"name": "tickValues"},
          "transform": [{"filter": "datum.scale === 'Atlantic' && datum.level === 'major'"}],
          "mark": {"type": "tick", "orient": "horizontal", "color": "black", "opacity": 1, "size": 10, "thickness": 2, "xOffset": 5},
          "encoding": {"x": {"datum": 1861.8, "type": "quantitative", "axis": null},
                       "y": {"field": "value", "type": "quantitative", "scale": {"domain": [-190.6, 19.87], "nice": false, "zero": false}, "axis": null}}
        },
        {
          "data": {"name": "tickValues"},
          "transform": [{"filter": "datum.scale === 'Atlantic' && datum.level === 'minor'"}],
          "mark": {"type": "tick", "orient": "horizontal", "color": "black", "opacity": 1, "size": 6, "thickness": 2, "xOffset": 3},
          "encoding": {"x": {"datum": 1861.8, "type": "quantitative", "axis": null},
                       "y": {"field": "value", "type": "quantitative", "scale": {"domain": [-190.6, 19.87], "nice": false, "zero": false}, "axis": null}}
        },
        {
          "data": {"name": "tickValues"},
          "transform": [{"filter": "datum.scale === 'Indian' && datum.level === 'major'"}],
          "mark": {"type": "tick", "orient": "horizontal", "color": "black", "opacity": 1, "size": 10, "thickness": 2, "xOffset": 5},
          "encoding": {"x": {"datum": 1861.8, "type": "quantitative", "axis": null},
                       "y": {"field": "value", "type": "quantitative", "scale": {"domain": [-39, 149.6], "nice": false, "zero": false}, "axis": null}}
        },
        {
          "data": {"name": "tickValues"},
          "transform": [{"filter": "datum.scale === 'Indian' && datum.level === 'minor'"}],
          "mark": {"type": "tick", "orient": "horizontal", "color": "black", "opacity": 1, "size": 6, "thickness": 2, "xOffset": 3},
          "encoding": {"x": {"datum": 1861.8, "type": "quantitative", "axis": null},
                       "y": {"field": "value", "type": "quantitative", "scale": {"domain": [-39, 149.6], "nice": false, "zero": false}, "axis": null}}
        },
        {
          "data": {"name": "tickValues"},
          "transform": [{"filter": "datum.scale === 'Pacific' && datum.level === 'major'"}],
          "mark": {"type": "tick", "orient": "horizontal", "color": "black", "opacity": 1, "size": 10, "thickness": 2, "xOffset": -5},
          "encoding": {"x": {"datum": 1984.5, "type": "quantitative", "axis": null},
                       "y": {"field": "value", "type": "quantitative", "scale": {"domain": [-103.5, 70.93], "nice": false, "zero": false}, "axis": null}}
        },
        {
          "data": {"name": "tickValues"},
          "transform": [{"filter": "datum.scale === 'Pacific' && datum.level === 'minor'"}],
          "mark": {"type": "tick", "orient": "horizontal", "color": "black", "opacity": 1, "size": 6, "thickness": 2, "xOffset": -3},
          "encoding": {"x": {"datum": 1984.5, "type": "quantitative", "axis": null},
                       "y": {"field": "value", "type": "quantitative", "scale": {"domain": [-103.5, 70.93], "nice": false, "zero": false}, "axis": null}}
        },
        {
          "data": {"values": [{}]},
          "mark": {"type": "text", "text": "Atlantic", "color": "black", "baseline": "alphabetic", "align": "center"},
          "encoding": {"x": {"datum": 1950.7, "type": "quantitative", "axis": null},
                       "y": {"datum": -21.8, "type": "quantitative", "scale": {"domain": [-190.6, 19.87], "nice": false, "zero": false}, "axis": null}}
        },
        {
          "data": {"values": [{}]},
          "mark": {"type": "rule", "color": "black", "strokeWidth": 4},
          "encoding": {"x": {"datum": 1935.3, "type": "quantitative", "axis": null}, "x2": {"datum": 1964},
                       "y": {"datum": -25.3, "type": "quantitative", "scale": {"domain": [-190.6, 19.87], "nice": false, "zero": false}, "axis": null}}
        },
        {
          "data": {"values": [{}]},
          "mark": {"type": "text", "text": "(b)", "color": "black", "baseline": "alphabetic", "align": "center"},
          "encoding": {"x": {"datum": 1875.2, "type": "quantitative", "axis": null},
                       "y": {"datum": 2.3, "type": "quantitative", "scale": {"domain": [-190.6, 19.87], "nice": false, "zero": false}, "axis": null}}
        },
        {
          "data": {"values": [{}]},
          "mark": {"type": "text", "text": "Pacific", "color": "black", "baseline": "alphabetic", "align": "center"},
          "encoding": {"x": {"datum": 1949.4, "type": "quantitative", "axis": null},
                       "y": {"datum": -20.9, "type": "quantitative", "scale": {"domain": [-103.5, 70.93], "nice": false, "zero": false}, "axis": null}}
        },
        {
          "data": {"values": [{}]},
          "mark": {"type": "rule", "color": "black", "strokeWidth": 3},
          "encoding": {"x": {"datum": 1936.3, "type": "quantitative", "axis": null}, "x2": {"datum": 1961.1},
                       "y": {"datum": -25.5, "type": "quantitative", "scale": {"domain": [-103.5, 70.93], "nice": false, "zero": false}, "axis": null}}
        },
        {
          "data": {"values": [{}]},
          "mark": {"type": "text", "text": "Indian", "color": "black", "baseline": "alphabetic", "align": "center"},
          "encoding": {"x": {"datum": 1949.9, "type": "quantitative", "axis": null},
                       "y": {"datum": -21.9, "type": "quantitative", "scale": {"domain": [-39, 149.6], "nice": false, "zero": false}, "axis": null}}
        },
        {
          "data": {"values": [{}]},
          "mark": {"type": "rule", "color": "black", "strokeWidth": 2},
          "encoding": {"x": {"datum": 1938, "type": "quantitative", "axis": null}, "x2": {"datum": 1962.9},
                       "y": {"datum": -25, "type": "quantitative", "scale": {"domain": [-39, 149.6], "nice": false, "zero": false}, "axis": null}}
        }
      ],
      "resolve": {"scale": {"y": "independent"}, "axis": {"x": "independent", "y": "independent"}}
    }
  ]
}
